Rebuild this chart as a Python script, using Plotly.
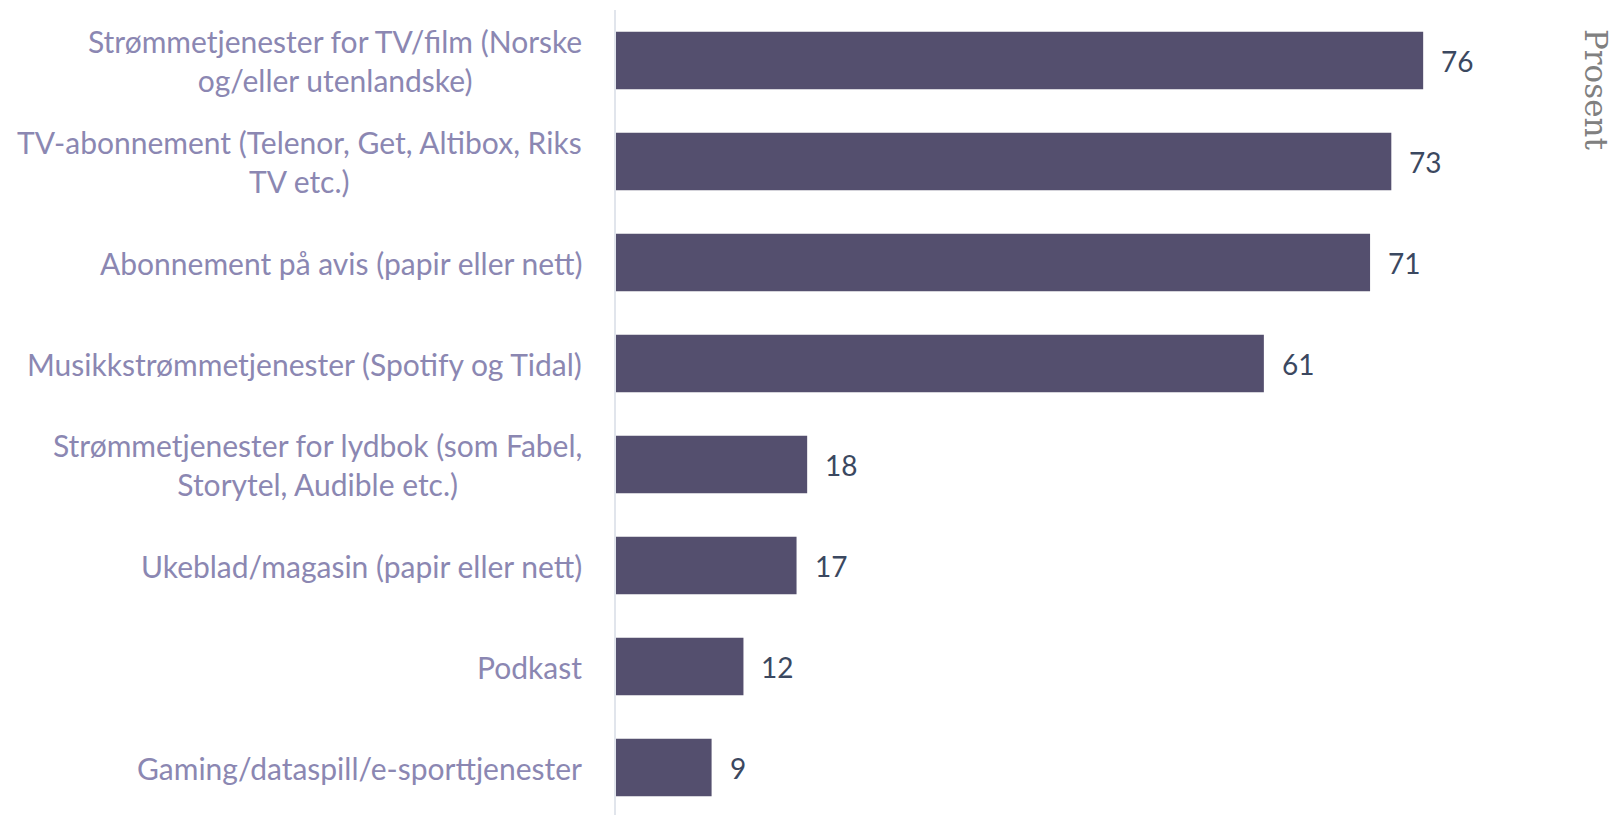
import plotly.graph_objects as go

categories = [
    "Strømmetjenester for TV/film (Norske<br>og/eller utenlandske)",
    "TV-abonnement (Telenor, Get, Altibox, Riks<br>TV etc.)",
    "Abonnement på avis (papir eller nett)",
    "Musikkstrømmetjenester (Spotify og Tidal)",
    "Strømmetjenester for lydbok (som Fabel,<br>Storytel, Audible etc.)",
    "Ukeblad/magasin (papir eller nett)",
    "Podkast",
    "Gaming/dataspill/e-sporttjenester",
]
values = [76, 73, 71, 61, 18, 17, 12, 9]

bar_color = "#544f6e"
label_color = "#8b87b2"
value_color = "#3b4860"
font_family = "Source Sans Pro, Lato, Noto Sans, sans-serif"

fig = go.Figure(go.Bar(
    x=values,
    y=categories,
    orientation="h",
    marker=dict(color=bar_color, line=dict(width=0)),
    width=0.57,
    hoverinfo="x+y",
))

annotations = []
for cat, v in zip(categories, values):
    # value labels to the right of each bar
    annotations.append(dict(
        x=v, y=cat, xref="x", yref="y", text=str(v),
        xanchor="left", xshift=16, showarrow=False,
        font=dict(family=font_family, size=28, color=value_color),
    ))
    # category labels, centred line by line like the original
    annotations.append(dict(
        x=0, y=cat, xref="paper", yref="y", text=cat,
        xanchor="right", xshift=-32, align="center", showarrow=False,
        font=dict(family=font_family, size=30, color=label_color),
    ))

annotations.append(dict(
    text="Prosent", x=1.0606, xref="paper", xanchor="center",
    y=0.979, yref="paper", yanchor="top",
    showarrow=False, textangle=90,
    font=dict(family="DejaVu Serif", size=31, color="#808080"),
))

fig.update_layout(
    width=1609,
    height=807,
    margin=dict(l=608, r=77, t=2, b=0),
    plot_bgcolor="white",
    paper_bgcolor="white",
    showlegend=False,
    bargap=0.43,
    xaxis=dict(range=[0, 87], showgrid=False, showticklabels=False,
               zeroline=False, showline=False, fixedrange=True),
    yaxis=dict(range=[7.47, -0.5], showticklabels=False, showgrid=False,
               showline=True, linecolor="#e1e5ec", linewidth=2,
               zeroline=False, fixedrange=True),
    annotations=annotations,
)

fig.write_html("out.html")
